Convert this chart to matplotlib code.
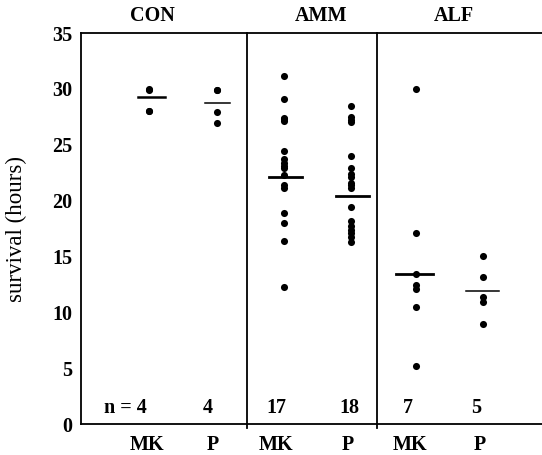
import matplotlib
matplotlib.use("Agg")
import matplotlib.pyplot as plt

plt.rcParams['font.family'] = ['Liberation Serif', 'DejaVu Serif']

# grupos e colunas
grupos = ["CON", "AMM", "ALF"]
colunas = ["MK", "P", "MK", "P", "MK", "P"]
n_labels = ["n = 4", "4", "17", "18", "7", "5"]

# valores (horas)
con_mk = [30.0, 29.9, 28.0, 28.0]
con_p = [29.9, 29.9, 27.9, 26.9]
amm_mk = [31.15, 29.1, 27.4, 27.3, 27.1, 24.4, 23.7, 23.4, 23.1, 22.9,
          22.3, 21.4, 21.1, 18.9, 18.0, 16.4, 12.3]
amm_p = [28.5, 27.45, 27.2, 27.0, 24.0, 22.95, 22.4, 22.1, 21.6, 21.4,
         21.15, 19.45, 18.2, 17.7, 17.4, 17.1, 16.7, 16.3]
alf_mk = [30.0, 17.1, 13.4, 12.4, 12.1, 10.5, 5.2]
alf_p = [15.0, 13.2, 11.4, 10.9, 8.95]
medias = [29.3, 28.7, 22.1, 20.4, 13.45, 11.9]

series = [con_mk, con_p, amm_mk, amm_p, alf_mk, alf_p]

# posicoes (eixo x arbitrario 0..7)
xpos = [1.04, 2.06, 3.08, 4.10, 5.08, 6.10]
xlab = [1.0, 2.0, 2.96, 4.05, 5.0, 6.05]
xmed = [1.07, 2.08, 3.10, 4.12, 5.07, 6.10]
meia_larg = [0.21, 0.19, 0.25, 0.25, 0.28, 0.25]
esp_med = [1.8, 1.1, 2.0, 2.0, 2.0, 1.1]
divisores = [2.52, 4.49]
x_grupos = [1.09, 3.64, 5.66]
x_n = [1.0, 1.93, 2.96, 4.07, 4.96, 6.0]

fig = plt.figure(figsize=(5.42, 4.55), dpi=100)
ax = fig.add_axes([81/542, 1 - 424/455, 1 - 81/542, (424 - 33)/455])

for x, vals in zip(xpos, series):
  ax.scatter([x]*len(vals), vals, s=26, color="black", zorder=3, linewidths=0)

for x, m, w, lw in zip(xmed, medias, meia_larg, esp_med):
  ax.plot([x - w, x + w], [m, m], color="black", lw=lw)

for d in divisores:
  ax.axvline(d, ymin=-0.01, ymax=1, color="black", lw=1.3, clip_on=False)

for x, g in zip(x_grupos, grupos):
  ax.text(x, 36.5, g, ha="center", va="center", fontsize=14.5,
          fontweight="bold", clip_on=False)

for i, (x, t) in enumerate(zip(x_n, n_labels)):
  ax.text(x, 1.45, t, ha="right" if i == 0 else "center", va="center",
          fontsize=14.5, fontweight="bold")

ax.set_xlim(0, 7)
ax.set_ylim(0, 35)
ax.set_yticks(range(0, 36, 5))
ax.set_xticks(xlab)
ax.set_xticklabels(colunas)
ax.tick_params(axis="both", length=0, labelsize=14.5)
ax.tick_params(axis="x", pad=8)
ax.tick_params(axis="y", pad=6)
for lbl in ax.get_xticklabels() + ax.get_yticklabels():
  lbl.set_fontweight("bold")

ax.spines["right"].set_visible(False)
for s in ["left", "top", "bottom"]:
  ax.spines[s].set_linewidth(1.3)

ax.set_ylabel("survival (hours)", fontsize=16.5)
ax.yaxis.set_label_coords(-0.117, 0.5)

plt.savefig("out.png", dpi=100)
